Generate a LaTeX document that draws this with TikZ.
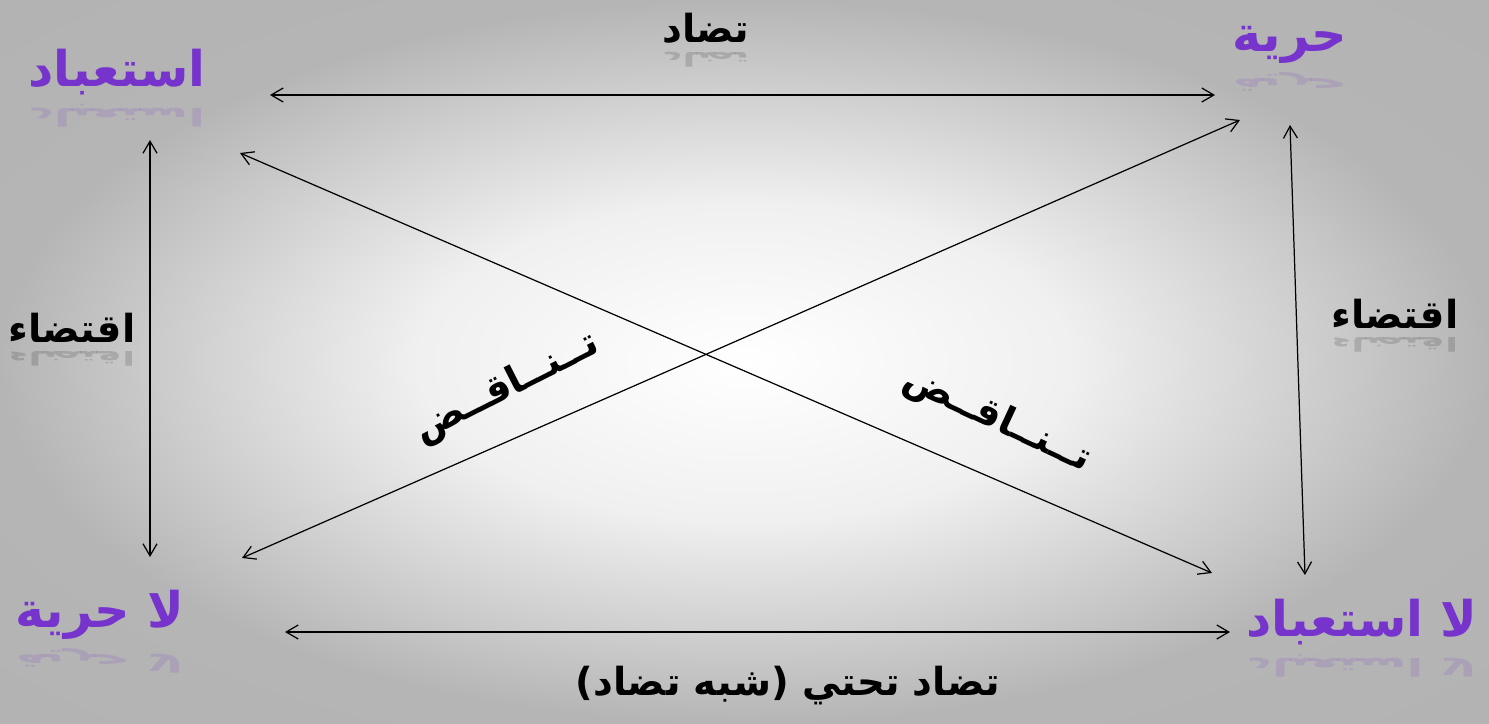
\documentclass[tikz,border=0pt]{standalone}
\usepackage{fontspec}
\newfontfamily\arabicfont[Script=Arabic]{DejaVu Sans}
\TeXXeTstate=1
\usetikzlibrary{arrows.meta}
\definecolor{termpurple}{RGB}{118,52,204}
\pgfdeclareradialshading{backdrop}{\pgfpoint{0bp}{0bp}}{%
  color(0bp)=(white); color(11bp)=(gray!12); color(25bp)=(gray!58);
  color(50bp)=(gray!62)}
\tikzset{
  >={Straight Barb[length=2.4mm,width=2.8mm]},
  relation/.style={<->,line width=.7pt,draw=black},
  term/.style={
    font=\arabicfont\bfseries\fontsize{28}{34}\selectfont,
    text=termpurple,
    inner sep=1pt
  },
  relname/.style={
    font=\arabicfont\bfseries\fontsize{22}{26}\selectfont,
    text=black,
    inner sep=1pt
  },
  mirror/.style={opacity=.14,transform shape,anchor=south,inner sep=1pt}
}
% faded mirror image under a label
\newcommand{\reflect}[3]{%
  \begin{scope}[shift={($(#2.south)+(0,6)$)},yscale=-.5]
    \node[#1,mirror] at (0,0) {#3};
  \end{scope}%
}
\usetikzlibrary{calc}

\begin{document}
\begin{tikzpicture}[x=0.02cm,y=-0.02cm]
  % Background.
  \shade[shading=backdrop] (0,0) rectangle (1489,724);
  \useasboundingbox (0,0) rectangle (1489,724);

  % Corner terms.
  \node[term] (slavery)   at (117,72)   {\beginR استعباد\endR};
  \node[term] (freedom)   at (1290,45)  {\beginR حرية\endR};
  \node[term] (nofreedom) at (100,615)  {\beginR لا حرية\endR};
  \node[term] (noslavery) at (1362,622) {\beginR لا استعباد\endR};
  \reflect{term}{slavery}{\beginR استعباد\endR}
  \reflect{term}{freedom}{\beginR حرية\endR}
  \reflect{term}{nofreedom}{\beginR لا حرية\endR}
  \reflect{term}{noslavery}{\beginR لا استعباد\endR}

  % Arrow ends around the terms.
  \coordinate (sE) at (270,95);   \coordinate (sS) at (150,140);  \coordinate (sD) at (240,153);
  \coordinate (fW) at (1215,95);  \coordinate (fS) at (1290,125); \coordinate (fD) at (1240,120);
  \coordinate (nfE) at (285,632); \coordinate (nfN) at (150,557); \coordinate (nfD) at (242,558);
  \coordinate (nsW) at (1230,632);\coordinate (nsN) at (1305,575);\coordinate (nsD) at (1212,573);

  % Relations.
  \draw[relation] (sE) -- (fW);
  \draw[relation] (nfE) -- (nsW);
  \draw[relation] (sS) -- (nfN);
  \draw[relation] (fS) -- (nsN);
  \draw[relation] (sD) -- (nsD);
  \draw[relation] (nfD) -- (fD);

  % Relation names.
  \node[relname] (contrary) at (706,28) {\beginR تضاد\endR};
  \node[relname] (implyL) at (72,328) {\beginR اقتضاء\endR};
  \node[relname] (implyR) at (1395,314) {\beginR اقتضاء\endR};
  \node[relname,rotate=27] (contraL) at (507,388) {\beginR تــنــاقــض\endR};
  \node[relname,rotate=-25] (contraR) at (997,420) {\beginR تــنــاقــض\endR};
  \node[relname] (subcontrary) at (788,686) {\beginR تضاد تحتي (شبه تضاد)\endR};
  \reflect{relname}{contrary}{\beginR تضاد\endR}
  \reflect{relname}{implyL}{\beginR اقتضاء\endR}
  \reflect{relname}{implyR}{\beginR اقتضاء\endR}
\end{tikzpicture}
\end{document}
